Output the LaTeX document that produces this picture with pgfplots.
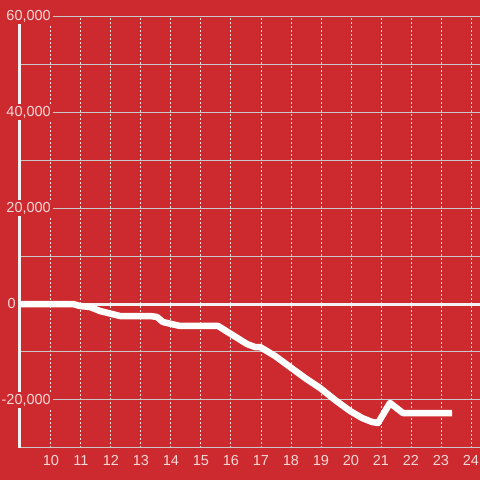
\documentclass[border=0pt]{standalone}
\usepackage{fontspec}
\setmainfont{Liberation Sans}
\usepackage{pgfplots}
\pgfplotsset{compat=1.18}
\definecolor{bg}{RGB}{204,42,46}
\definecolor{gridc}{RGB}{200,200,200}
\definecolor{vgrid}{RGB}{232,222,222}
\definecolor{lbl}{RGB}{245,215,215}
\definecolor{axw}{RGB}{242,242,242}
\begin{document}
\begin{tikzpicture}[x=1pt,y=1pt]
\fill[bg] (0,0) rectangle (480,480);
\begin{axis}[
  at={(20pt,32pt)}, anchor=south west,
  scale only axis, width=460pt, height=432pt,
  xmin=8.9667, xmax=24.3, ymin=-30000, ymax=60000,
  scaled y ticks=false,
  separate axis lines,
  axis x line*=bottom, axis y line*=left,
  x axis line style={draw=none},
  y axis line style={draw=axw, line width=3pt, -},
  major tick length=0pt, minor tick length=0pt,
  xtick={10,...,24},
  xticklabels={10,11,12,13,14,15,16,17,18,19,20,21,22,23,24},
  ytick={-20000,20000,40000,60000},
  yticklabels={{-20,000},{20,000},{40,000},{60,000}},
  minor ytick={-30000,-10000,10000,30000,50000},
  extra y ticks={0},
  extra y tick labels={0},
  extra y tick style={
    yticklabel style={xshift=-36pt, fill=none, inner sep=1pt},
    major y grid style={draw=axw, line width=3pt, solid}},
  ymajorgrids, yminorgrids, xmajorgrids,
  major y grid style={gridc, line width=1pt},
  minor y grid style={gridc, line width=1pt},
  major x grid style={vgrid, line width=1pt, dash pattern=on 2pt off 2pt},
  tick label style={font=\fontsize{14.5}{16}\selectfont, text=lbl},
  xticklabel style={anchor=north, inner sep=0pt, yshift=-7pt},
  yticklabel style={anchor=east, xshift=33pt, fill=bg, inner sep=2pt},
  /pgf/number format/assume math mode=true,
  clip=false,
]
\addplot[white, line width=6.5pt, line join=round, line cap=butt] coordinates {
(8.967,0) (10.73,0) (10.97,-417) (11.3,-625) (11.63,-1460) (12.03,-2080)
(12.3,-2500) (13.3,-2500) (13.53,-2700) (13.73,-3750) (14.3,-4580)
(15.57,-4580) (16.53,-8330) (16.8,-8960) (16.97,-8960) (17.47,-10830)
(17.97,-13130) (18.47,-15420) (18.97,-17500) (19.47,-20000) (19.97,-22290)
(20.37,-23750) (20.7,-24580) (20.9,-24790) (21.3,-20620) (21.73,-22710)
(23.37,-22710)
};
\end{axis}
\pgfresetboundingbox
\path[use as bounding box] (0,0) rectangle (480,480);
\end{tikzpicture}
\end{document}
